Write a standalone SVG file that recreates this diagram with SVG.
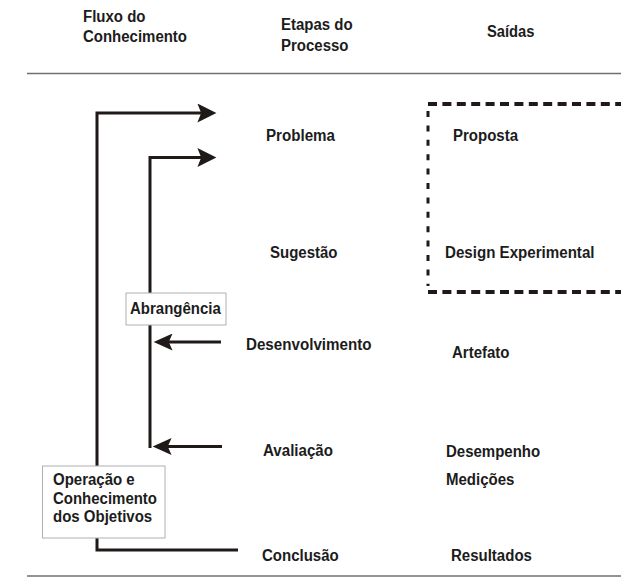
<svg xmlns="http://www.w3.org/2000/svg" width="621" height="580" viewBox="0 0 621 580">
<style>
text{font-family:"Liberation Sans",Arial,sans-serif;font-size:16px;font-weight:bold;fill:#1c1c1c}
.rule{stroke:#707070;stroke-width:1.5;fill:none}
.conn{stroke:#1f1a17;stroke-width:3;fill:none}
.box{fill:#fff;stroke:#b0b0b0;stroke-width:1}
.dash-h{stroke:#1f1a17;stroke-width:4;fill:none;stroke-dasharray:9 5.4}
.dash-v{stroke:#1f1a17;stroke-width:3;fill:none;stroke-dasharray:6 8.4}
</style>
<defs>
<marker id="ah" viewBox="0 0 20 20" markerUnits="userSpaceOnUse" markerWidth="20" markerHeight="19" refX="8" refY="10" orient="auto">
<path d="M0,0 L20,10 L0,20 L4,10 Z" fill="#1f1a17"/>
</marker>
<marker id="ahs" viewBox="0 0 20 18" markerUnits="userSpaceOnUse" markerWidth="20" markerHeight="17" refX="8" refY="9" orient="auto">
<path d="M0,0 L20,9 L0,18 L4,9 Z" fill="#1f1a17"/>
</marker>
</defs>

<g id="header">
<text x="83" y="22" textLength="62.5" lengthAdjust="spacingAndGlyphs">Fluxo do</text>
<text x="83" y="42" textLength="104" lengthAdjust="spacingAndGlyphs">Conhecimento</text>
<text x="281" y="30" textLength="71.7" lengthAdjust="spacingAndGlyphs">Etapas do</text>
<text x="281" y="51" textLength="67.5" lengthAdjust="spacingAndGlyphs">Processo</text>
<text x="487" y="37" textLength="47.5" lengthAdjust="spacingAndGlyphs">Saídas</text>
<line class="rule" x1="27" y1="73.5" x2="621" y2="73.5"/>
<line class="rule" x1="27" y1="576" x2="621" y2="576"/>
</g>

<g id="connectors">
<path class="conn" d="M238,550 H97 V113 H205" marker-end="url(#ah)"/>
<path class="conn" d="M150,448 V157.5 H205" marker-end="url(#ah)"/>
<path class="conn" d="M221,342 H165" marker-end="url(#ahs)"/>
<path class="conn" d="M222,446.5 H164" marker-end="url(#ahs)"/>
</g>

<g id="saidas-grupo">
<path class="dash-h" d="M428,104 H621"/>
<path class="dash-h" d="M428,292 H621"/>
<path class="dash-v" d="M428,111 V286"/>
</g>

<g id="abrangencia">
<rect class="box" x="126" y="293" width="100" height="32"/>
<text x="130" y="314" textLength="90.8" lengthAdjust="spacingAndGlyphs">Abrangência</text>
</g>

<g id="operacao">
<rect class="box" x="42.5" y="466" width="122.5" height="72"/>
<text x="53" y="485" textLength="81.7" lengthAdjust="spacingAndGlyphs">Operação e</text>
<text x="53" y="503.5" textLength="104" lengthAdjust="spacingAndGlyphs">Conhecimento</text>
<text x="53" y="522" textLength="99.2" lengthAdjust="spacingAndGlyphs">dos Objetivos</text>
</g>

<g id="problema"><text x="266" y="141" textLength="69" lengthAdjust="spacingAndGlyphs">Problema</text></g>
<g id="sugestao"><text x="270" y="258" textLength="67.5" lengthAdjust="spacingAndGlyphs">Sugestão</text></g>
<g id="desenvolvimento"><text x="246" y="350" textLength="125.5" lengthAdjust="spacingAndGlyphs">Desenvolvimento</text></g>
<g id="avaliacao"><text x="263" y="456" textLength="70" lengthAdjust="spacingAndGlyphs">Avaliação</text></g>
<g id="conclusao"><text x="262" y="561" textLength="76.7" lengthAdjust="spacingAndGlyphs">Conclusão</text></g>

<g id="proposta"><text x="453" y="141" textLength="65" lengthAdjust="spacingAndGlyphs">Proposta</text></g>
<g id="design"><text x="445" y="258" textLength="149.5" lengthAdjust="spacingAndGlyphs">Design Experimental</text></g>
<g id="artefato"><text x="452" y="358" textLength="57.5" lengthAdjust="spacingAndGlyphs">Artefato</text></g>
<g id="desempenho"><text x="446" y="457" textLength="94.2" lengthAdjust="spacingAndGlyphs">Desempenho</text></g>
<g id="medicoes"><text x="446" y="485" textLength="68.4" lengthAdjust="spacingAndGlyphs">Medições</text></g>
<g id="resultados"><text x="451" y="561" textLength="80.9" lengthAdjust="spacingAndGlyphs">Resultados</text></g>
</svg>
